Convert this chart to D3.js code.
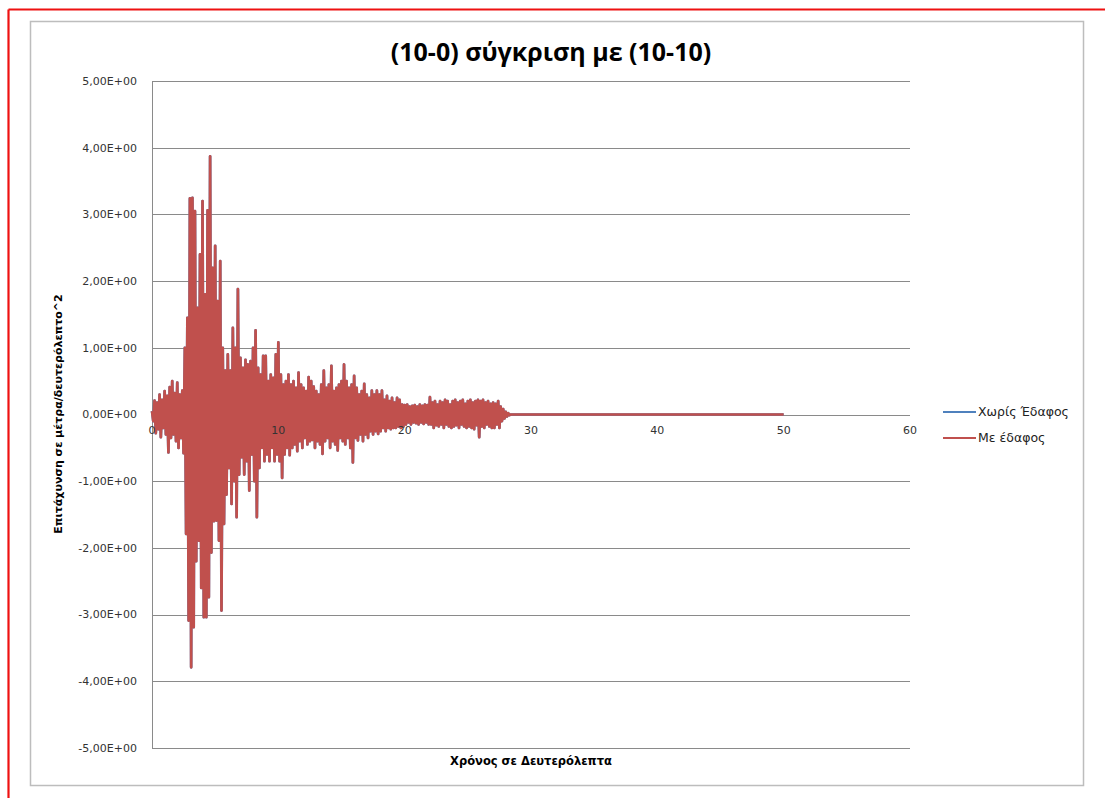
<!DOCTYPE html>
<html>
<head>
<meta charset="utf-8">
<script src="https://cdn.jsdelivr.net/npm/d3@7/dist/d3.min.js"></script>
<style>
  html, body { margin: 0; padding: 0; background: #fff; }
  svg { display: block; }
</style>
</head>
<body>
<svg id="chart" width="1105" height="798"></svg>
<script>
// Acceleration record sampled every 0.1 s (m/s^2), one row per second
const sampleStep = 0.1;
const accelWithSoil = [
  0.05, -0.10, 0.21, -0.28, 0.18, -0.22, 0.30, -0.34, 0.22, -0.20,
  0.35, -0.30, 0.28, -0.57, 0.41, -0.35, 0.50, -0.30, 0.32, -0.40,
  0.48, -0.50, 0.30, -0.35, 0.36, -0.58, 1.00, -1.79, 1.45, -3.09,
  3.24, -3.79, 3.25, -3.19, 3.05, -2.20, 1.60, -1.89, 2.40, -2.60,
  3.20, -3.04, 1.80, -3.04, 3.06, -2.74, 3.87, -2.07, 2.20, -1.60,
  2.53, -1.59, 1.70, -1.89, 2.30, -2.94, 1.00, -1.64, 0.66, -1.20,
  0.90, -0.80, 0.66, -1.34, 1.30, -1.00, 1.00, -1.54, 1.88, -0.90,
  0.85, -0.64, 0.70, -0.90, 0.82, -0.70, 0.75, -1.14, 0.80, -0.60,
  1.00, -1.00, 1.26, -1.54, 0.70, -0.80, 0.60, -0.50, 0.88, -0.70,
  0.88, -0.60, 0.50, -0.70, 0.60, -0.50, 0.55, -0.70, 0.90, -0.60,
  1.08, -0.70, 0.60, -0.95, 0.45, -0.60, 0.50, -0.50, 0.60, -0.61,
  0.45, -0.50, 0.50, -0.45, 0.40, -0.55, 0.63, -0.40, 0.45, -0.50,
  0.40, -0.35, 0.35, -0.45, 0.56, -0.40, 0.50, -0.38, 0.42, -0.50,
  0.35, -0.40, 0.30, -0.45, 0.45, -0.59, 0.66, -0.40, 0.40, -0.35,
  0.45, -0.50, 0.73, -0.40, 0.35, -0.45, 0.40, -0.54, 0.45, -0.35,
  0.50, -0.40, 0.75, -0.45, 0.50, -0.35, 0.40, -0.50, 0.45, -0.72,
  0.58, -0.35, 0.40, -0.39, 0.30, -0.30, 0.35, -0.40, 0.46, -0.30,
  0.30, -0.35, 0.25, -0.25, 0.36, -0.30, 0.30, -0.25, 0.36, -0.29,
  0.30, -0.25, 0.36, -0.20, 0.22, -0.25, 0.28, -0.20, 0.20, -0.22,
  0.25, -0.20, 0.18, -0.20, 0.25, -0.18, 0.22, -0.20, 0.15, -0.18,
  0.14, -0.15, 0.15, -0.12, 0.12, -0.15, 0.13, -0.12, 0.14, -0.13,
  0.12, -0.15, 0.15, -0.12, 0.13, -0.14, 0.15, -0.12, 0.14, -0.15,
  0.26, -0.15, 0.18, -0.20, 0.20, -0.16, 0.15, -0.18, 0.20, -0.15,
  0.18, -0.20, 0.22, -0.15, 0.20, -0.18, 0.15, -0.20, 0.20, -0.18,
  0.22, -0.16, 0.18, -0.20, 0.20, -0.15, 0.22, -0.18, 0.16, -0.20,
  0.20, -0.18, 0.22, -0.20, 0.18, -0.22, 0.20, -0.16, 0.22, -0.34,
  0.20, -0.18, 0.22, -0.20, 0.18, -0.15, 0.20, -0.18, 0.16, -0.20,
  0.18, -0.20, 0.16, -0.15, 0.20, -0.20, 0.12, -0.10, 0.08, -0.06,
  0.04, -0.03, 0.02, -0.01, 0.00
];
// the record continues at rest until the end of the analysis
const recordEnd = 50;
const restValue = 0;
// the rigid-base response plotted underneath
const accelNoSoil = accelWithSoil;

const seriesNames = ["Χωρίς Έδαφος", "Με έδαφος"];
const seriesColors = ["#4F81BD", "#C0504D"];
const xTicks = [0, 10, 20, 30, 40, 50, 60];
const yTicks = [5, 4, 3, 2, 1, 0, -1, -2, -3, -4, -5];
const yTickLabels = ["5,00E+00", "4,00E+00", "3,00E+00", "2,00E+00", "1,00E+00", "0,00E+00",
                     "-1,00E+00", "-2,00E+00", "-3,00E+00", "-4,00E+00", "-5,00E+00"];
const chartTitle = "(10-0) σύγκριση με (10-10)";
const xTitle = "Χρόνος σε Δευτερόλεπτα";
const yTitle = "Επιτάχυνση σε μέτρα/δευτερόλεπτο^2";

const svg = d3.select("#chart");

// outer page frame (red) and chart frame (grey)
svg.append("line").attr("x1", 8.5).attr("y1", 9.5).attr("x2", 1105).attr("y2", 9.5)
  .attr("stroke", "#ee1111").attr("stroke-width", 2.2);
svg.append("line").attr("x1", 8.5).attr("y1", 9.5).attr("x2", 8.5).attr("y2", 798)
  .attr("stroke", "#ee1111").attr("stroke-width", 2.2);
svg.append("rect").attr("x", 30.5).attr("y", 21.5).attr("width", 1053).attr("height", 764)
  .attr("fill", "#fff").attr("stroke", "#bdbdbd").attr("stroke-width", 1.5);

const plot = { left: 152, right: 910, top: 81, bottom: 748 };
const x = d3.scaleLinear().domain([0, 60]).range([plot.left, plot.right]);
const y = d3.scaleLinear().domain([-5, 5]).range([plot.bottom, plot.top]);

// horizontal gridlines
svg.append("g").selectAll("line").data(yTicks).join("line")
  .attr("x1", plot.left).attr("x2", plot.right)
  .attr("y1", d => Math.round(y(d)) + 0.5).attr("y2", d => Math.round(y(d)) + 0.5)
  .attr("stroke", "#8a8a8a").attr("stroke-width", 1);

// vertical axis line
svg.append("line").attr("x1", plot.left + 0.5).attr("x2", plot.left + 0.5)
  .attr("y1", plot.top).attr("y2", plot.bottom)
  .attr("stroke", "#8a8a8a").attr("stroke-width", 1);

// y tick labels
svg.append("g").selectAll("text").data(yTicks).join("text")
  .attr("x", 137).attr("y", d => y(d))
  .attr("dy", "0.35em").attr("text-anchor", "end")
  .attr("font-family", "DejaVu Sans, Verdana, sans-serif").attr("font-size", 11)
  .attr("fill", "#333")
  .text((d, i) => yTickLabels[i]);

// build the series points
function toPoints(values) {
  const pts = values.map((v, i) => [i * sampleStep, v]);
  pts.push([recordEnd, restValue]);
  return pts;
}
const line = d3.line().x(d => x(d[0])).y(d => y(d[1]));

[accelNoSoil, accelWithSoil].forEach((vals, k) => {
  svg.append("path").datum(toPoints(vals))
    .attr("d", line).attr("fill", "none")
    .attr("stroke", seriesColors[k]).attr("stroke-width", 2.7)
    .attr("stroke-linejoin", "round");
});

// x tick labels sit on the zero line
svg.append("g").selectAll("text").data(xTicks).join("text")
  .attr("x", d => x(d)).attr("y", y(0) + 19)
  .attr("text-anchor", "middle")
  .attr("font-family", "DejaVu Sans, Verdana, sans-serif").attr("font-size", 11)
  .attr("fill", "#333")
  .text(d => d);

// titles
svg.append("text").attr("x", 551).attr("y", 61).attr("text-anchor", "middle")
  .attr("font-family", "Open Sans, sans-serif").attr("font-weight", "bold").attr("font-size", 25)
  .attr("fill", "#000").text(chartTitle);
svg.append("text").attr("x", 531).attr("y", 765).attr("text-anchor", "middle")
  .attr("font-family", "DejaVu Sans, Verdana, sans-serif").attr("font-weight", "bold").attr("font-size", 11.5)
  .attr("fill", "#000").text(xTitle);
svg.append("text").attr("transform", "translate(62,414) rotate(-90)").attr("text-anchor", "middle")
  .attr("font-family", "DejaVu Sans, Verdana, sans-serif").attr("font-weight", "bold").attr("font-size", 11)
  .attr("fill", "#000").text(yTitle);

// legend
const legend = svg.append("g").selectAll("g").data(seriesNames).join("g")
  .attr("transform", (d, i) => `translate(943, ${412 + i * 26})`);
legend.append("line").attr("x1", 0).attr("x2", 33).attr("y1", 0).attr("y2", 0)
  .attr("stroke", (d, i) => seriesColors[i]).attr("stroke-width", 2);
legend.append("text").attr("x", 35).attr("y", 0).attr("dy", "0.35em")
  .attr("font-family", "DejaVu Sans, Verdana, sans-serif").attr("font-size", 12.5)
  .attr("fill", "#222").text(d => d);
</script>
</body>
</html>
